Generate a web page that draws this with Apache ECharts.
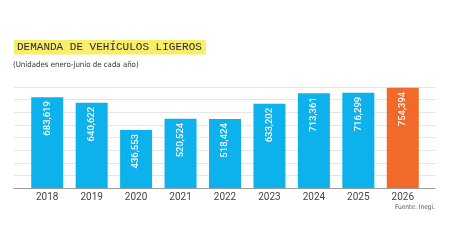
<!DOCTYPE html>
<html>
<head>
<meta charset="utf-8">
<script src="https://cdn.jsdelivr.net/npm/echarts@6/dist/echarts.min.js"></script>
<style>html,body{margin:0;padding:0;background:#fff;}#c{width:449px;height:252px;}</style>
</head>
<body>
<div id="c"></div>
<script>
const categories = ['2018','2019','2020','2021','2022','2023','2024','2025','2026'];
const values = [683619, 640622, 436553, 520524, 518424, 633202, 713361, 716299, 754394];
const highlightYear = '2026';

const chart = echarts.init(document.getElementById('c'), null, {renderer: 'canvas'});
const blue = '#0db1ec', orange = '#f26a2a';
const yMax = 760000, yInt = 95000;
const gTop = 87, gBottom = 64;

chart.setOption({
  animation: false,
  title: [
    {text: 'DEMANDA DE VEHÍCULOS LIGEROS', left: 14, top: 40,
     padding: [2, 4, 1.5, 3], backgroundColor: '#f9ee6c',
     textStyle: {fontFamily: '"Liberation Mono", "DejaVu Sans Mono", monospace', fontSize: 11, fontWeight: 'normal', color: '#2a2a2a'}},
    {text: '(Unidades enero-junio de cada año)', left: 13, top: 61, padding: 0,
     textStyle: {fontFamily: '"Liberation Sans Narrow", "DejaVu Sans Condensed", Roboto, sans-serif', fontSize: 7.8, fontWeight: 'normal', color: '#333'}},
    {text: 'Fuente: Inegi.', right: 14, top: 204, padding: 0,
     textStyle: {fontFamily: '"Liberation Sans Narrow", "DejaVu Sans Condensed", Roboto, sans-serif', fontSize: 6.5, fontWeight: 'normal', color: '#555'}}
  ],
  grid: [
    {left: 25, right: 24, top: gTop, bottom: gBottom},
    {left: 14, right: 14, top: gTop, bottom: gBottom}
  ],
  xAxis: [
    {type: 'category', gridIndex: 0, data: categories,
     axisLine: {show: false}, axisTick: {show: false},
     axisLabel: {color: '#444', fontFamily: 'Roboto, sans-serif', fontSize: 10, margin: 4}},
    {type: 'value', gridIndex: 1, min: 0, max: 1,
     axisLine: {show: true, onZero: false, lineStyle: {color: '#9a9a9a', width: 1}},
     axisTick: {show: false}, axisLabel: {show: false}, splitLine: {show: false}}
  ],
  yAxis: [
    {type: 'value', gridIndex: 0, min: 0, max: yMax, interval: yInt,
     axisLine: {show: false}, axisTick: {show: false}, axisLabel: {show: false}, splitLine: {show: false}},
    {type: 'value', gridIndex: 1, min: 0, max: yMax, interval: yInt,
     axisLine: {show: false}, axisTick: {show: false}, axisLabel: {show: false},
     splitLine: {show: true, lineStyle: {color: '#e6e6e6', width: 1}}}
  ],
  series: [{
    type: 'bar', xAxisIndex: 0, yAxisIndex: 0, barWidth: 32,
    data: values.map((v, i) => ({value: v, itemStyle: {color: categories[i] === highlightYear ? orange : blue}})),
    label: {show: true, position: 'insideTop', rotate: 90, align: 'right', verticalAlign: 'middle',
      distance: 4, color: '#fff', fontFamily: 'Roboto, sans-serif', fontSize: 9.5, fontWeight: 500,
      formatter: p => p.value.toLocaleString('en-US')}
  }]
});
</script>
</body>
</html>
